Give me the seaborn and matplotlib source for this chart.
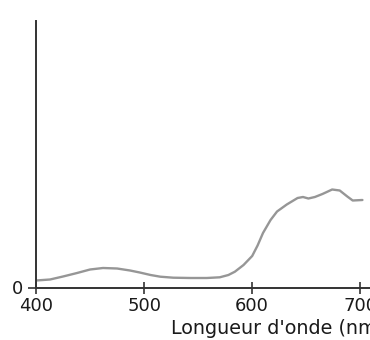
import matplotlib
matplotlib.use("Agg")
import matplotlib.pyplot as plt
import seaborn as sns
import pandas as pd

# Absorption spectrum (arbitrary units)
wavelength = [400, 413, 425, 438, 450, 462, 475, 487, 496, 506, 515, 527,
              543, 558, 570, 578, 584, 592, 600, 605, 610, 617, 623, 632,
              642, 647, 652, 658, 665, 674, 681, 688, 693, 702]
absorbance = [0.070, 0.080, 0.110, 0.145, 0.180, 0.195, 0.190, 0.170,
              0.150, 0.125, 0.108, 0.098, 0.095, 0.095, 0.102, 0.125,
              0.158, 0.225, 0.315, 0.420, 0.545, 0.675, 0.760, 0.830,
              0.895, 0.905, 0.890, 0.905, 0.935, 0.980, 0.970, 0.910,
              0.870, 0.875]
x_ticks = [400, 500, 600, 700]
y_ticks = [0]
x_label = "Longueur d'onde (nm)"

sns.set_style("ticks")
plt.rcParams["font.family"] = ["DejaVu Sans"]

df = pd.DataFrame({"wavelength": wavelength, "absorbance": absorbance})

fig = plt.figure(figsize=(3.7, 3.4), dpi=100)
ax = fig.add_axes([36 / 370, 52.5 / 340, 334 / 370, 266.5 / 340])

sns.lineplot(data=df, x="wavelength", y="absorbance", ax=ax,
             color="#969696", linewidth=1.7)

ax.set_xlim(400, 709)
ax.set_ylim(0, 2.665)
ax.set_xticks(x_ticks)
ax.set_yticks(y_ticks)
ax.set_ylabel("")
ax.set_xlabel(x_label, fontsize=13.8, color="#1a1a1a", ha="left")
ax.xaxis.set_label_coords(0.405, -0.118)

for side in ("top", "right"):
    ax.spines[side].set_visible(False)
for side in ("left", "bottom"):
    ax.spines[side].set_color("#333333")
    ax.spines[side].set_linewidth(1.4)

ax.tick_params(axis="x", direction="inout", length=8, width=1.2,
               colors="#333333", labelsize=13, labelcolor="#1a1a1a", pad=3)
ax.tick_params(axis="y", direction="out", length=6, width=1.2,
               colors="#333333", labelsize=13, labelcolor="#1a1a1a", pad=3)

fig.savefig("out.png", dpi=100)
